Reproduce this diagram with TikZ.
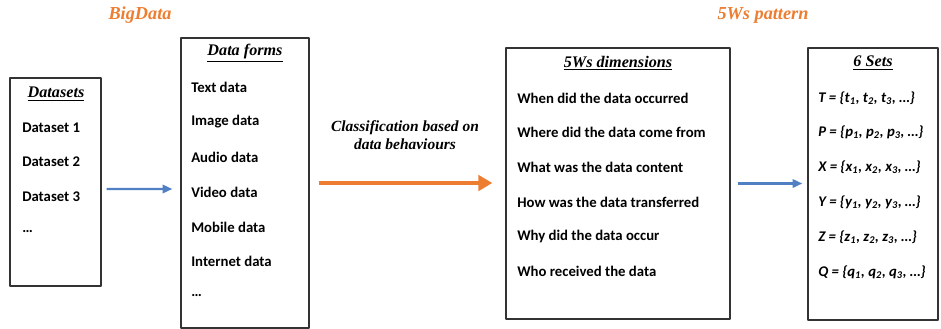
\documentclass[tikz,border=0pt]{standalone}
\usepackage{fontspec}
\setmainfont{Carlito}
\newfontfamily\headfont{Liberation Serif}
\usetikzlibrary{arrows.meta,positioning}
\definecolor{bdorange}{RGB}{237,125,49}
\definecolor{bdblue}{RGB}{80,128,195}
\newcommand{\hd}[1]{\headfont\bfseries\itshape\underline{#1}}
\newcommand{\setrow}[2]{#1 = \{#2\textsubscript{1}, #2\textsubscript{2}, #2\textsubscript{3}, \ldots\}}
\tikzset{
  box/.style={draw=black!80, line width=0.9pt, inner sep=0pt},
  item/.style={anchor=west, inner sep=0pt, font=\fontsize{10.5}{12}\selectfont\bfseries},
  sitem/.style={item, font=\fontsize{10.5}{12}\selectfont\bfseries\itshape},
  head/.style={inner sep=0pt, font=\fontsize{11.5}{13}\selectfont},
  group/.style={inner sep=0pt, text=bdorange, font=\fontsize{13}{15}\headfont\bfseries\itshape},
  flow/.style={-{Triangle[length=7pt,width=6pt]}, line width=1.6pt, bdblue}
}
\begin{document}
\begin{tikzpicture}[x=0.025cm, y=-0.025cm, line join=round]
	\useasboundingbox (0,0) rectangle (941,329);
	\node[group] (bigdata) at (140,15) {BigData};
	\node[group] (pattern) at (763,15) {5Ws pattern};
	% boxes
	\node[box, minimum width=2.275cm, minimum height=5.2cm] (datasets) at (55.5,182) {};
	\node[box, minimum width=3.2cm, minimum height=7.25cm] (forms) at (245,183) {};
	\node[box, minimum width=5.6cm, minimum height=6.775cm] (dims) at (618,183.5) {};
	\node[box, minimum width=3.25cm, minimum height=6.8cm] (sets) at (873,184) {};
	% datasets
	\node[head] (datasets-t) at (56,94) {\hd{Datasets}};
	\node[item] (ds1) at (22,128) {Dataset 1};
	\node[item] (ds2) at (22,162) {Dataset 2};
	\node[item] (ds3) at (22,197) {Dataset 3};
	\node[item] (ds4) at (22,232) {\ldots};
	% data forms
	\node[head] (forms-t) at (245,53) {\hd{Data forms}};
	\node[item] (f1) at (191,87) {Text data};
	\node[item] (f2) at (191,122) {Image data};
	\node[item] (f3) at (191,157) {Audio data};
	\node[item] (f4) at (191,192) {Video data};
	\node[item] (f5) at (191,227) {Mobile data};
	\node[item] (f6) at (191,261) {Internet data};
	\node[item] (f7) at (191,296) {\ldots};
	% 5Ws dimensions
	\node[head] (dims-t) at (618,63) {\hd{5Ws dimensions}};
	\node[item] (w1) at (517,98) {When did the data occurred};
	\node[item] (w2) at (517,132) {Where did the data come from};
	\node[item] (w3) at (517,167) {What was the data content};
	\node[item] (w4) at (517,202) {How was the data transferred};
	\node[item] (w5) at (517,236) {Why did the data occur};
	\node[item] (w6) at (517,271) {Who received the data};
	% 6 sets
	\node[head] (sets-t) at (873,63) {\hd{6 Sets}};
	\node[sitem] (s1) at (818,98) {\setrow{T}{t}};
	\node[sitem] (s2) at (818,132) {\setrow{P}{p}};
	\node[sitem] (s3) at (818,167) {\setrow{X}{x}};
	\node[sitem] (s4) at (818,202) {\setrow{Y}{y}};
	\node[sitem] (s5) at (818,237) {\setrow{Z}{z}};
	\node[sitem] (s6) at (818,272) {\setrow{Q}{q}};
	% arrows
	\node[head, align=center, font=\fontsize{11}{13}\headfont\bfseries\itshape] (classify) at (405,135) {Classification based on\\data behaviours};
	\draw[flow, shorten <=0.125cm, shorten >=0.2cm] ([yshift=-0.175cm]datasets.east) -- ([yshift=-0.15cm]forms.west);
	\draw[-{Triangle[length=10pt,width=11pt]}, line width=3.5pt, bdorange, shorten <=0.225cm, shorten >=0.325cm] (forms.east) -- (forms.east -| dims.west);
	\draw[flow, shorten <=0.175cm, shorten >=0.125cm] (dims.east) -- (dims.east -| sets.west);
\end{tikzpicture}
\end{document}
